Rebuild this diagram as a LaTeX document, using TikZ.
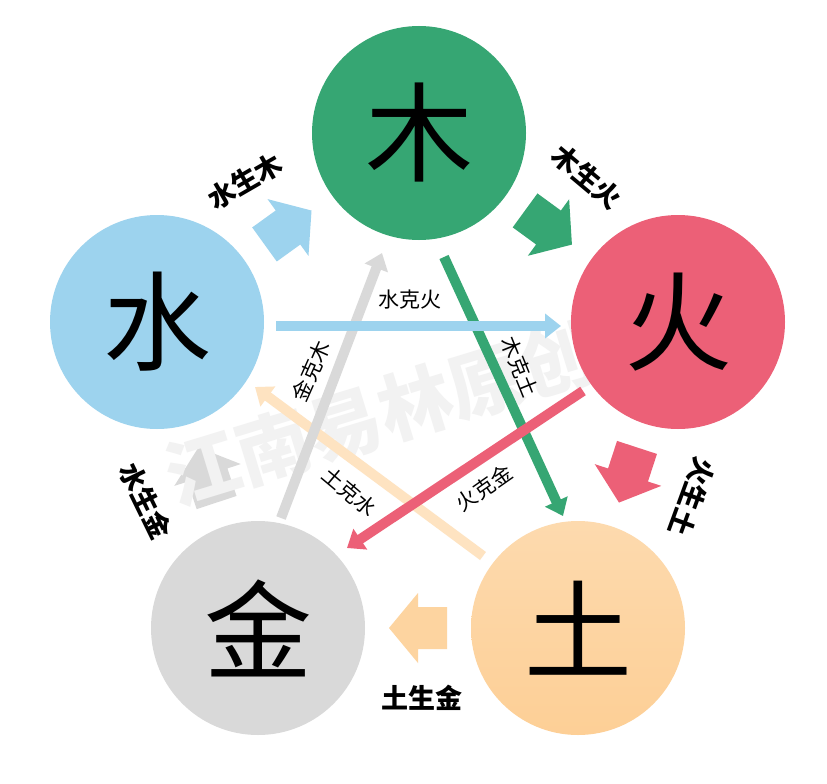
\documentclass[tikz,border=0pt]{standalone}
\usepackage{fontspec}
\setmainfont{Noto Sans CJK SC}
\usetikzlibrary{arrows.meta,calc}
\definecolor{mgreen}{HTML}{36A673}
\definecolor{mred}{HTML}{EC6077}
\definecolor{mblue}{HTML}{9DD3EE}
\definecolor{mgray}{HTML}{D9D9D9}
\definecolor{mpeach}{HTML}{FDD4A0}
\definecolor{tptop}{HTML}{FDDAAE}
\definecolor{tpbot}{HTML}{FDCF96}
\definecolor{lpeach}{HTML}{FEE3C1}
\definecolor{wmark}{HTML}{F2F2F2}
\tikzset{
  phase/.style={circle, inner sep=0pt, minimum size=214pt, font=\fontsize{108}{108}\selectfont},
  blockarrow/.pic={\fill[pic actions] (-29,-21) -- (0,-21) -- (0,-35) -- (29,0) -- (0,35) -- (0,21) -- (-29,21) -- cycle;},
  kearrow/.style={line width=10pt, -{Triangle[length=16pt,width=24pt]}},
  shenglabel/.style={font=\bfseries\fontsize{27}{27}\selectfont, inner sep=0pt},
  kelabel/.style={font=\fontsize{21}{21}\selectfont, inner sep=0pt}
}
\begin{document}
\begin{tikzpicture}[x=1pt,y=-1pt]
\useasboundingbox[fill=white] (0,0) rectangle (827,784);
% phase positions
\coordinate (pshui) at (157,322);
\coordinate (pmu) at (419,133);
\coordinate (phuo) at (678,322);
\coordinate (ptu) at (578,628);
\coordinate (pjin) at (258,628);
% generating block arrows
\path let \p1=($(pmu)-(pshui)$), \n1={atan2(\y1,\x1)} in pic[fill=mblue, rotate=\n1] at ($(pshui)!0.5!(pmu)$) {blockarrow};
\path let \p1=($(phuo)-(pmu)$), \n1={atan2(\y1,\x1)} in pic[fill=mgreen, rotate=\n1] at ($(pmu)!0.5!(phuo)$) {blockarrow};
\path let \p1=($(ptu)-(phuo)$), \n1={atan2(\y1,\x1)} in pic[fill=mred, rotate=\n1] at ($(phuo)!0.5!(ptu)$) {blockarrow};
\path let \p1=($(pjin)-(ptu)$), \n1={atan2(\y1,\x1)} in pic[fill=mpeach, rotate=\n1] at ($(ptu)!0.5!(pjin)$) {blockarrow};
\path let \p1=($(pshui)-(pjin)$), \n1={atan2(\y1,\x1)} in pic[fill=mgray, rotate=\n1] at ($(pjin)!0.5!(pshui)$) {blockarrow};
% watermark
\node[rotate=17, text=wmark, font=\bfseries\fontsize{74}{74}\selectfont, inner sep=0pt] (wm) at (380,414) {江南易林原创};
% circles
\node[phase, fill=mgreen] (mu) at (pmu) {木};
\node[phase, fill=mred] (huo) at (phuo) {火};
\node[phase, top color=tptop, bottom color=tpbot, draw=none] (tu) at (ptu) {土};
\node[phase, fill=mgray] (jin) at (pjin) {金};
\node[phase, fill=mblue] (shui) at (pshui) {水};
% controlling arrows endpoints
\coordinate (a1) at (276,326); \coordinate (a2) at (561,326);
\coordinate (b1) at (444,257); \coordinate (b2) at (563,516);
\coordinate (c1) at (583,391); \coordinate (c2) at (347,548);
\coordinate (d1) at (483,556); \coordinate (d2) at (255,387);
\coordinate (e1) at (281,518); \coordinate (e2) at (382,253);
\draw[kearrow, draw=lpeach, fill=lpeach] (d1) -- (d2);
\draw[kearrow, draw=mgray, fill=mgray] (e1) -- (e2);
\draw[kearrow, draw=mgreen, fill=mgreen] (b1) -- (b2);
\draw[kearrow, draw=mblue, fill=mblue] (a1) -- (a2);
\draw[kearrow, draw=mred, fill=mred] (c1) -- (c2);
% labels
\node[shenglabel, rotate=30] (s1) at (245,181) {水生木};
\node[shenglabel, rotate=-40] (s2) at (587,177) {木生火};
\node[shenglabel, rotate=-110] (s3) at (692,497) {火生土};
\node[shenglabel] (s4) at (422,698) {土生金};
\node[shenglabel, rotate=-64] (s5) at (146,501) {水生金};
\node[kelabel] (k1) at (410,300) {水克火};
\node[kelabel, rotate=-68] (k2) at (520,367) {木克土};
\node[kelabel, rotate=35] (k3) at (484,488) {火克金};
\node[kelabel, rotate=-40] (k4) at (350,492) {土克水};
\node[kelabel, rotate=66] (k5) at (311,371) {金克木};
\end{tikzpicture}
\end{document}
